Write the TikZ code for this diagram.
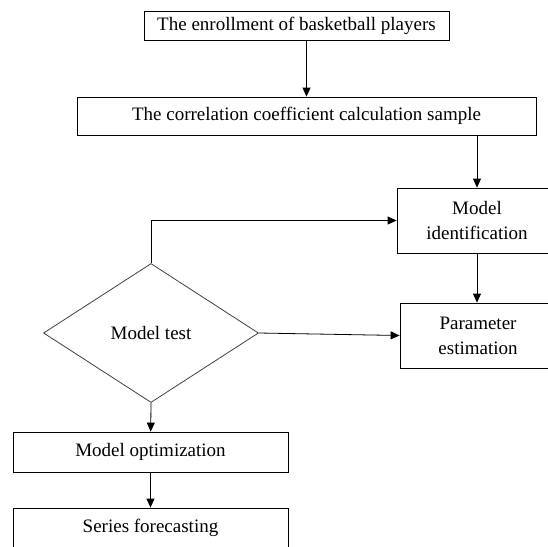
\documentclass[tikz,border=0pt]{standalone}
\usepackage{fontspec}
\setmainfont{Liberation Serif}
\usetikzlibrary{positioning, shapes.geometric, arrows.meta}

\begin{document}
\begin{tikzpicture}[x=1pt, y=1pt, >={Triangle[length=9pt,width=8pt]}, font=\fontsize{19}{25}\selectfont]
    \tikzstyle{block} = [rectangle, draw=black, line width=0.8pt, text centered, inner sep=0pt]
    \tikzstyle{test} = [diamond, draw=black!75, line width=0.8pt, inner sep=0pt, minimum width=215pt, minimum height=139pt]
    \tikzstyle{arrow} = [line width=0.8pt, ->]

    \useasboundingbox (0,0) rectangle (548,-546);

    \node [block, minimum width=305pt, minimum height=29pt] (enroll) at (296.5,-25.5) {The enrollment of basketball players};
    \node [block, minimum width=459pt, minimum height=38pt] (corr) at (306.5,-116) {The correlation coefficient calculation sample};
    \node [block, minimum width=160pt, minimum height=65pt, text width=150pt] (ident) at (477,-220.5) {Model\\identification};
    \node [block, minimum width=156pt, minimum height=65pt, text width=150pt] (param) at (478,-335.5) {Parameter\\estimation};
    \node [test] (mtest) at (151,-333) {Model test};
    \node [block, minimum width=275pt, minimum height=40pt] (opt) at (150.5,-452) {Model optimization};
    \node [block, minimum width=275pt, minimum height=40pt] (fore) at (150.5,-528) {Series forecasting};

    \draw [arrow] (enroll.south -| corr) -- (corr);
    \draw [arrow] (corr.south -| ident) -- (ident);
    \draw [arrow] (ident.south) -- (ident.south |- param.north);
    \draw [arrow] (mtest.north) |- (ident);
    \draw [arrow] (mtest.east) -- (param.west);
    \draw [arrow] (mtest.south) -- (opt);
    \draw [arrow] (opt) -- (fore);
\end{tikzpicture}
\end{document}
